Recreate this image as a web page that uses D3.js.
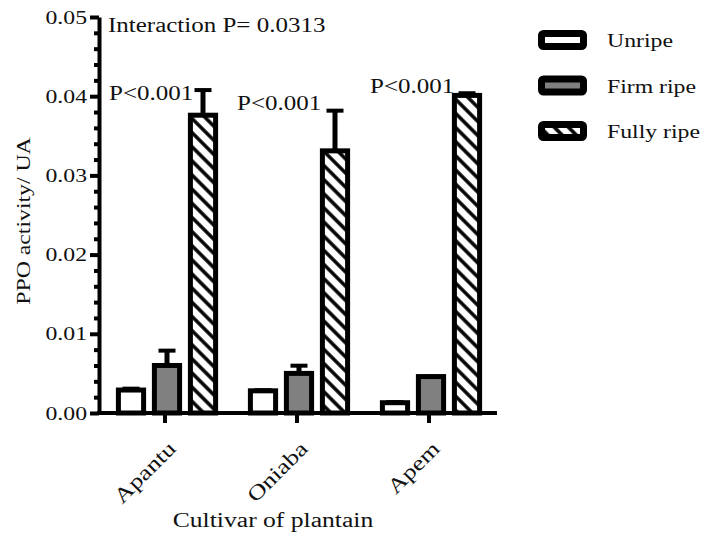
<!DOCTYPE html>
<html>
<head>
<meta charset="utf-8">
<script src="https://cdn.jsdelivr.net/npm/d3@7"></script>
<style>
  body { margin: 0; background: #fff; }
  text { font-family: "Liberation Serif", "Times New Roman", serif; fill: #111; }
</style>
</head>
<body>
<div id="chart"></div>
<script>
// data
const cultivars = ['Apantu', 'Oniaba', 'Apem']
const ripeness = ['Unripe', 'Firm ripe', 'Fully ripe']
const unripe = [0.0029, 0.0028, 0.0013]
const unripe_err = [0.0003, 0.0002, 0.0002]
const firm_ripe = [0.0060, 0.0050, 0.0046]
const firm_ripe_err = [0.0020, 0.0011, 0.0001]
const fully_ripe = [0.0376, 0.0331, 0.0401]
const fully_ripe_err = [0.0033, 0.0052, 0.0004]
const y_ticks = [0, 0.01, 0.02, 0.03, 0.04, 0.05]
const p_labels = ['P<0.001', 'P<0.001', 'P<0.001']
const interaction_label = 'Interaction P= 0.0313'

const width = 723
const height = 538
const text_stretch = 1.25

const svg = d3.select('#chart').append('svg')
    .attr('width', width)
    .attr('height', height)

// hatch pattern for fully ripe
svg.append('defs').append('pattern')
    .attr('id', 'hatch')
    .attr('patternUnits', 'userSpaceOnUse')
    .attr('width', 10)
    .attr('height', 10)
    .attr('patternTransform', 'rotate(-45)')
    .call(p => {
        p.append('rect').attr('width', 10).attr('height', 10).attr('fill', '#fff')
        p.append('line').attr('x1', 2).attr('x2', 2).attr('y1', 0).attr('y2', 10)
            .attr('stroke', '#000').attr('stroke-width', 3.5)
    })

const fills = ['#ffffff', '#808080', 'url(#hatch)']

const rows = []
cultivars.forEach((c, i) => {
    rows.push({ cultivar: c, series: ripeness[0], value: unripe[i], err: unripe_err[i] })
    rows.push({ cultivar: c, series: ripeness[1], value: firm_ripe[i], err: firm_ripe_err[i] })
    rows.push({ cultivar: c, series: ripeness[2], value: fully_ripe[i], err: fully_ripe_err[i] })
})

const y = d3.scaleLinear().domain([0, 0.05]).range([413, 17])
const x = d3.scaleBand().domain(cultivars).range([99, 495])
const x_sub = d3.scaleBand().domain(ripeness).range([14, 122]).paddingInner(0.3).paddingOuter(0.15)
const fill = d3.scaleOrdinal().domain(ripeness).range(fills)

// text helper, glyphs drawn a bit wider like the original rendering
function addText(x0, y0, str, size, anchor, rot) {
    return svg.append('text')
        .attr('transform', 'translate(' + x0 + ',' + y0 + ')' + (rot ? ' rotate(' + rot + ')' : '') + ' scale(' + text_stretch + ',1)')
        .attr('text-anchor', anchor || 'start')
        .attr('font-size', size + 'px')
        .text(str)
}

// error bars (upper only)
const bar_x = d => x(d.cultivar) + x_sub(d.series) + x_sub.bandwidth() / 2
svg.selectAll('.err')
    .data(rows)
    .enter()
    .append('line')
    .attr('x1', bar_x).attr('x2', bar_x)
    .attr('y1', d => y(d.value))
    .attr('y2', d => y(d.value + d.err))
    .attr('stroke', '#000').attr('stroke-width', 5)
svg.selectAll('.cap')
    .data(rows)
    .enter()
    .append('line')
    .attr('x1', d => bar_x(d) - 8.5).attr('x2', d => bar_x(d) + 8.5)
    .attr('y1', d => y(d.value + d.err) + 1)
    .attr('y2', d => y(d.value + d.err) + 1)
    .attr('stroke', '#000').attr('stroke-width', 4)

// bars
svg.selectAll('.bar')
    .data(rows)
    .enter()
    .append('rect')
    .attr('x', d => x(d.cultivar) + x_sub(d.series))
    .attr('y', d => y(d.value))
    .attr('width', x_sub.bandwidth())
    .attr('height', d => y(0) - y(d.value))
    .attr('fill', d => fill(d.series))
    .attr('stroke', '#000')
    .attr('stroke-width', 5)

// y axis: major + minor ticks
const y_axis = svg.append('g')
    .attr('transform', 'translate(99,0)')
    .call(d3.axisLeft(y).tickValues(y_ticks).tickSize(9).tickSizeOuter(0).tickFormat(''))
y_axis.select('.domain').attr('stroke-width', 4)
y_axis.selectAll('.tick line').attr('stroke-width', 4)
const minor = d3.range(0, 0.0501, 0.002).filter(v => Math.abs(v * 100 - Math.round(v * 100)) > 1e-6)
const y_minor = svg.append('g')
    .attr('transform', 'translate(99,0)')
    .call(d3.axisLeft(y).tickValues(minor).tickSize(5).tickSizeOuter(0).tickFormat(''))
y_minor.select('.domain').remove()
y_minor.selectAll('.tick line').attr('stroke-width', 4)
y_ticks.forEach(v => addText(87, y(v) + 6.5, v.toFixed(2), 19, 'end'))

// x axis
const x_axis = svg.append('g')
    .attr('transform', 'translate(0,413)')
    .call(d3.axisBottom(x).tickSize(10).tickSizeOuter(0).tickFormat(''))
x_axis.select('.domain').attr('stroke-width', 4).attr('d', 'M97,0H497')
x_axis.selectAll('.tick line').attr('stroke-width', 4)
cultivars.forEach(c => addText(x(c) + x.bandwidth() / 2 + 12, 450, c, 21, 'end', -45))

// axis titles
addText(30, 221, 'PPO activity/ UA', 19, 'middle', -90)
addText(273, 527, 'Cultivar of plantain', 20.5, 'middle')

// annotations
addText(108, 32, interaction_label, 20)
const p_pos = [[109, 100], [237, 110], [370, 93]]
p_labels.forEach((t, i) => addText(p_pos[i][0], p_pos[i][1], t, 20))

// legend
const legend = svg.append('g')
ripeness.forEach((s, i) => {
    const ly = 40 + i * 45.5
    legend.append('rect')
        .attr('x', 541.5).attr('y', ly - 6.5)
        .attr('width', 42).attr('height', 13)
        .attr('rx', 2)
        .attr('fill', fill(s))
        .attr('stroke', '#000').attr('stroke-width', 7)
    addText(607, ly + 7, s, 19)
})
</script>
</body>
</html>
